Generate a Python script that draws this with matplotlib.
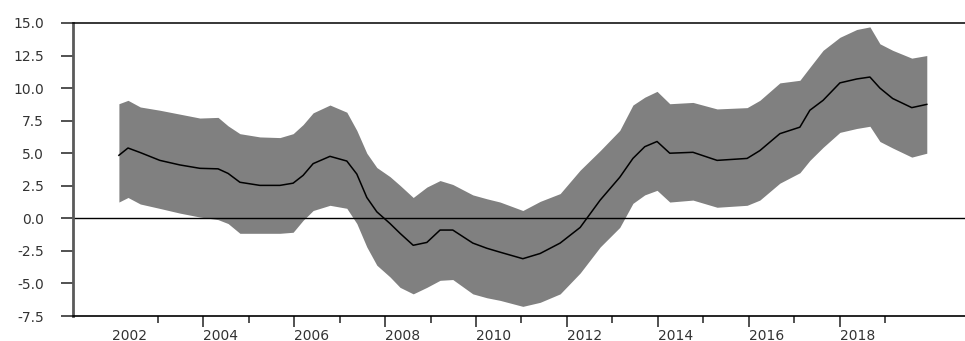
import numpy as np
import matplotlib
matplotlib.use("Agg")
import matplotlib.pyplot as plt
from matplotlib.ticker import FixedLocator

# decimal years of the readings
dates = [2002.15, 2002.35, 2002.62, 2003.05, 2003.49, 2003.93, 2004.33, 2004.55,
         2004.81, 2005.25, 2005.69, 2005.98, 2006.20, 2006.42, 2006.79, 2007.16,
         2007.38, 2007.60, 2007.82, 2008.11, 2008.33, 2008.62, 2008.92, 2009.21,
         2009.49, 2009.93, 2010.24, 2010.53, 2011.03, 2011.41, 2011.85, 2012.29,
         2012.73, 2013.16, 2013.45, 2013.71, 2013.98, 2014.26, 2014.77, 2015.30,
         2015.96, 2016.24, 2016.68, 2017.12, 2017.34, 2017.63, 2018.00, 2018.37,
         2018.66, 2018.88, 2019.16, 2019.58, 2019.91]

center = [4.84, 5.4, 5.05, 4.45, 4.1, 3.84, 3.8, 3.45,
          2.77, 2.53, 2.53, 2.7, 3.3, 4.2, 4.76, 4.4,
          3.4, 1.6, 0.5, -0.4, -1.15, -2.07, -1.85, -0.9,
          -0.9, -1.9, -2.3, -2.6, -3.1, -2.7, -1.9, -0.7,
          1.4, 3.15, 4.6, 5.5, 5.9, 5.0, 5.07, 4.45,
          4.6, 5.2, 6.5, 7.0, 8.3, 9.06, 10.4, 10.7,
          10.85, 10.0, 9.2, 8.5, 8.75]

upper = [8.8, 9.06, 8.55, 8.3, 8.0, 7.7, 7.75, 7.1,
         6.5, 6.25, 6.2, 6.5, 7.2, 8.1, 8.7, 8.15,
         6.75, 5.0, 3.9, 3.2, 2.53, 1.6, 2.4, 2.9,
         2.6, 1.8, 1.5, 1.25, 0.6, 1.3, 1.9, 3.7,
         5.2, 6.75, 8.7, 9.3, 9.75, 8.8, 8.9, 8.4,
         8.5, 9.06, 10.4, 10.6, 11.6, 12.9, 13.9, 14.5,
         14.7, 13.4, 12.9, 12.3, 12.5]

lower = [1.25, 1.6, 1.1, 0.76, 0.4, 0.1, -0.1, -0.4,
         -1.15, -1.15, -1.15, -1.07, -0.15, 0.6, 1.0, 0.77,
         -0.4, -2.2, -3.6, -4.5, -5.3, -5.8, -5.3, -4.76,
         -4.7, -5.8, -6.1, -6.3, -6.76, -6.45, -5.8, -4.2,
         -2.2, -0.7, 1.15, 1.8, 2.15, 1.25, 1.4, 0.85,
         1.0, 1.4, 2.7, 3.5, 4.45, 5.45, 6.6, 6.9,
         7.07, 5.9, 5.4, 4.7, 5.0]

label_years = [2002, 2004, 2006, 2008, 2010, 2012, 2014, 2016, 2018]
minor_years = [2003, 2005, 2007, 2009, 2011, 2013, 2015, 2017, 2019]
y_ticks = [-7.5, -5.0, -2.5, 0.0, 2.5, 5.0, 7.5, 10.0, 12.5, 15.0]

plt.rcParams['font.family'] = 'DejaVu Sans'

fig = plt.figure(figsize=(9.65, 3.41), dpi=100)
ax = fig.add_axes([0.0756, 0.0733, 0.9244, 0.8593])

ax.fill_between(dates, lower, upper, color='#808080', linewidth=0)
ax.plot(dates, center, color='black', linewidth=1.1)
ax.axhline(0, color='black', linewidth=1.0)

ax.set_xlim(2001.14, 2020.75)
ax.set_ylim(-7.5, 15.0)

ax.spines['right'].set_visible(False)
ax.spines['left'].set_color('#5a5a5a')
ax.spines['left'].set_linewidth(2.0)
ax.spines['bottom'].set_linewidth(1.2)
ax.spines['top'].set_linewidth(1.1)

ax.set_yticks(y_ticks)
ax.set_yticklabels([f"{v:.1f}" for v in y_ticks])
ax.tick_params(axis='y', direction='out', length=9, width=1.2, pad=12,
               labelsize=10, labelcolor='#333333', color='#333333')

ax.xaxis.set_major_locator(FixedLocator(label_years))
ax.xaxis.set_minor_locator(FixedLocator(minor_years))
ax.set_xticklabels([str(y) for y in label_years])
ax.tick_params(axis='x', which='major', direction='out', length=8, width=1.2,
               pad=1, labelsize=10, labelcolor='#333333', color='#333333')
ax.tick_params(axis='x', which='minor', direction='out', length=5, width=1.2,
               color='#333333')
for lab in ax.get_xticklabels():
    lab.set_horizontalalignment('left')
ax.xaxis.get_major_ticks()[0].tick1line.set_visible(False)

fig.savefig('out.png', dpi=100)
